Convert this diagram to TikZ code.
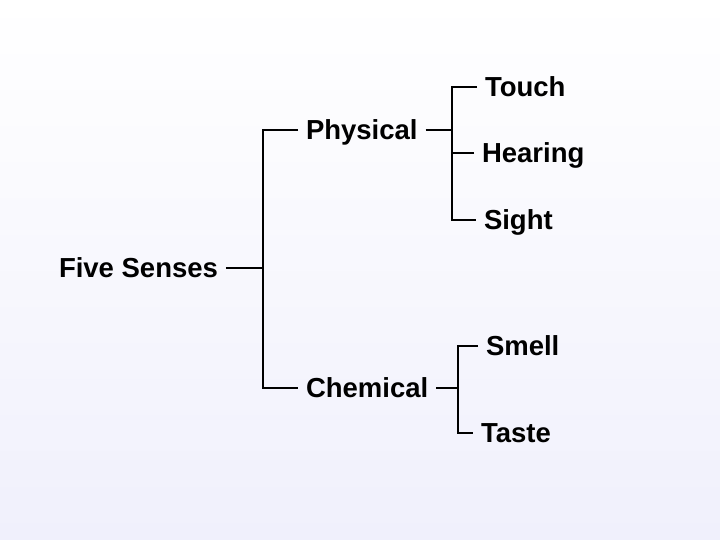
\documentclass[tikz,border=0pt]{standalone}
\usepackage{fontspec}
\setmainfont{Liberation Sans}
\definecolor{bgbottom}{RGB}{240,240,252}
\begin{document}
\begin{tikzpicture}[x=1pt,y=-1pt,
  lbl/.style={inner sep=0pt, outer xsep=8pt, anchor=west, text height=19.7pt, text depth=0pt,
    font=\fontsize{27.5}{33}\selectfont\bfseries},
  conn/.style={draw=black, line width=1.1pt}]
\shade[top color=white, bottom color=bgbottom] (0,0) rectangle (720,540);
\useasboundingbox (0,0) rectangle (720,540);
% nodes
\node[lbl] (fs) at (51,268) {Five Senses};
\node[lbl] (phys) at (298,130) {Physical};
\node[lbl] (chem) at (298,388) {Chemical};
\node[lbl] (touch) at (477,87) {Touch};
\node[lbl] (hear) at (474,153) {Hearing};
\node[lbl] (sight) at (476,220) {Sight};
\node[lbl] (smell) at (478,346) {Smell};
\node[lbl] (taste) at (473,433) {Taste};
% spine coordinates
\coordinate (s1) at (263,268);
\coordinate (s2) at (452,130);
\coordinate (s3) at (458,388);
% connectors
\draw[conn] (fs.east) -- (fs.east -| s1);
\draw[conn] (phys.west) -| (s1) |- (chem.west);
\draw[conn] (phys.east) -- (phys.east -| s2);
\draw[conn] (touch.west) -| (s2) |- (sight.west);
\draw[conn] (hear.west) -- (hear.west -| s2);
\draw[conn] (chem.east) -- (chem.east -| s3);
\draw[conn] (smell.west) -| (s3) |- (taste.west);
\end{tikzpicture}
\end{document}
